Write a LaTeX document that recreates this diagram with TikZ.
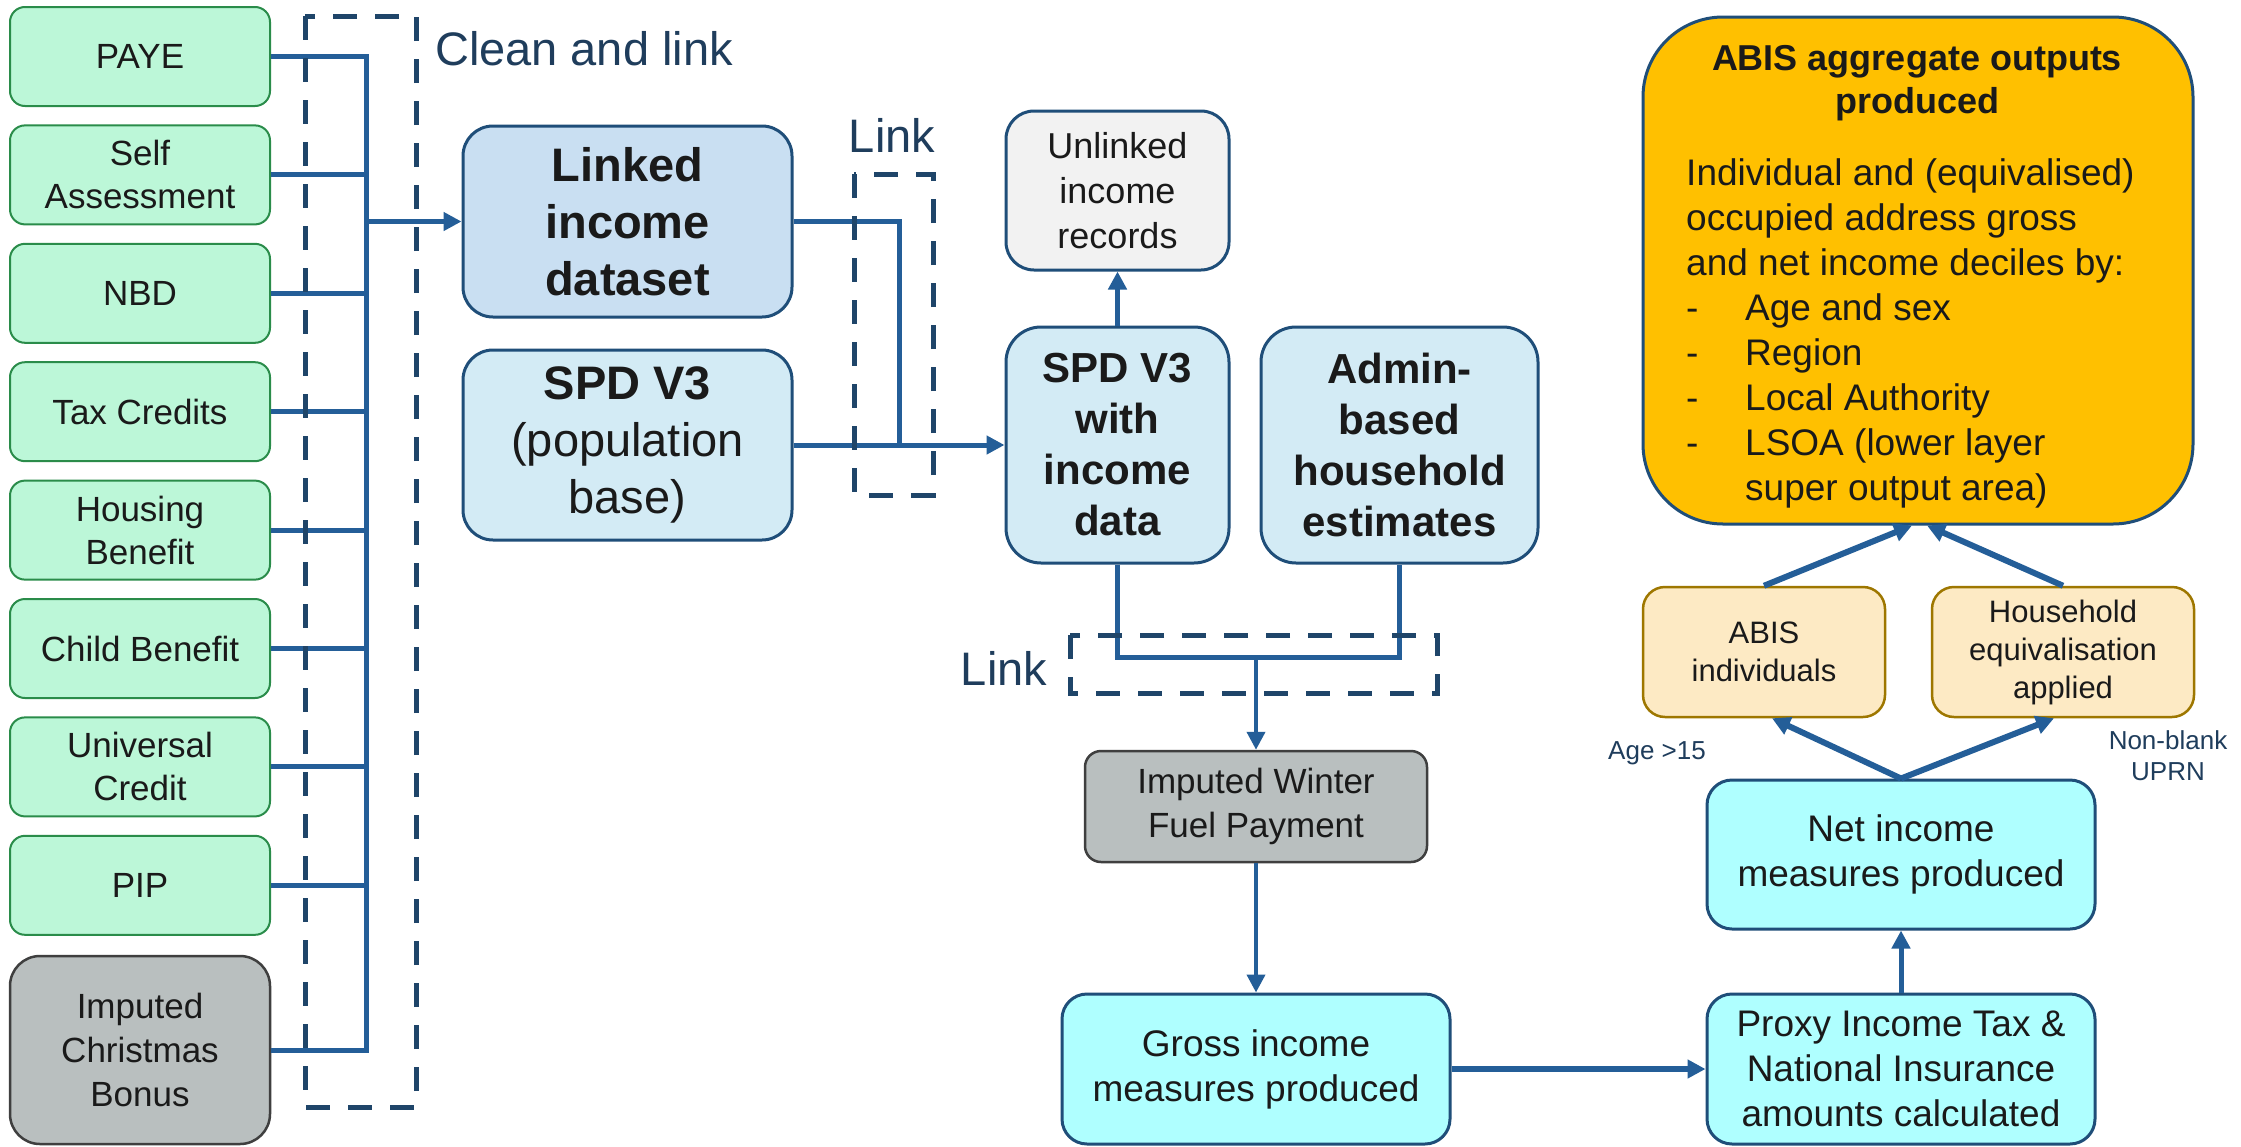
\documentclass[tikz,border=0pt]{standalone}
\usepackage{fontspec}
\setmainfont{Liberation Sans}
\usetikzlibrary{arrows.meta,calc}
\definecolor{grnF}{HTML}{BCF7D8}
\definecolor{grnB}{HTML}{2A8C4A}
\definecolor{gryF}{HTML}{B9BFBF}
\definecolor{gryB}{HTML}{3F3F3F}
\definecolor{lnkF}{HTML}{C9DFF2}
\definecolor{spdF}{HTML}{D3EBF5}
\definecolor{unlF}{HTML}{F2F2F2}
\definecolor{aquF}{HTML}{AFFFFF}
\definecolor{orgF}{HTML}{FDEAC4}
\definecolor{orgB}{HTML}{9E7700}
\definecolor{aggF}{HTML}{FFC000}
\definecolor{navB}{HTML}{1F4E79}
\definecolor{lnk}{HTML}{245E98}
\definecolor{dsh}{HTML}{1F4569}
\definecolor{lblc}{HTML}{1F3D5C}
\definecolor{txt}{HTML}{1A1A1A}
\tikzset{
  basebox/.style={draw, inner sep=0pt, align=center, text=txt},
  greenbox/.style={basebox, draw=grnB, fill=grnF, line width=2pt, rounded corners=15pt,
    minimum width=260pt, minimum height=99pt, font=\fontsize{35}{43}\selectfont},
  graybox/.style={basebox, draw=gryB, fill=gryF, line width=2.5pt,
    font=\fontsize{35}{44}\selectfont},
  bluebox/.style={basebox, draw=navB, line width=3pt},
  aquabox/.style={basebox, draw=navB, fill=aquF, line width=3pt, rounded corners=25pt,
    minimum width=388pt, font=\fontsize{37}{45}\selectfont},
  orgbox/.style={basebox, draw=orgB, fill=orgF, line width=2.5pt, rounded corners=22pt,
    minimum height=130pt, font=\fontsize{31}{38}\selectfont},
  conn/.style={draw=lnk, line width=5pt},
  arr/.style={-{Triangle[length=18pt,width=18pt]}},
  dbox/.style={draw=dsh, line width=5pt, dash pattern=on 24pt off 18pt},
  lbl/.style={text=lblc, inner sep=0pt, font=\fontsize{47}{56}\selectfont},
  smalllbl/.style={text=lblc, inner sep=0pt, align=center, font=\fontsize{26}{31}\selectfont},
}
\begin{document}
\begin{tikzpicture}[x=1pt,y=-1pt]
\useasboundingbox[fill=white] (0,0) rectangle (2241,1146);

% left sources
\node[greenbox] (paye) at (140,56.5) {PAYE};
\node[greenbox] (self) at (140,174.9) {Self\\Assessment};
\node[greenbox] (nbd) at (140,293.3) {NBD};
\node[greenbox] (tax) at (140,411.7) {Tax Credits};
\node[greenbox] (hb) at (140,530.1) {Housing\\Benefit};
\node[greenbox] (cb) at (140,648.5) {Child Benefit};
\node[greenbox] (uc) at (140,766.9) {Universal\\Credit};
\node[greenbox] (pip) at (140,885.3) {PIP};
\node[graybox, minimum width=260pt, minimum height=188pt, rounded corners=30pt] (xmas) at (140,1050) {Imputed\\Christmas\\Bonus};

% middle
\node[bluebox, fill=lnkF, rounded corners=30pt, minimum width=329pt, minimum height=191pt,
  font=\fontsize{47}{57}\selectfont\bfseries] (linked) at (627.5,221.5) {Linked\\income\\dataset};
\node[bluebox, fill=spdF, rounded corners=30pt, minimum width=329pt, minimum height=190pt,
  font=\fontsize{47}{57}\selectfont] (spdpop) at (627.5,445) {\textbf{SPD V3}\\(population\\base)};
\node[bluebox, fill=unlF, rounded corners=28pt, minimum width=223pt, minimum height=159pt,
  font=\fontsize{36}{45}\selectfont] (unlinked) at (1117.5,190.5) {Unlinked\\income\\records};
\node[bluebox, fill=spdF, rounded corners=35pt, minimum width=223pt, minimum height=236pt,
  font=\fontsize{42}{51}\selectfont\bfseries] (spdinc) at (1117.5,445) {SPD V3\\with\\income\\data};
\node[bluebox, fill=spdF, rounded corners=35pt, minimum width=277pt, minimum height=236pt,
  font=\fontsize{42}{51}\selectfont\bfseries] (admin) at (1399.5,445) {Admin-\\based\\household\\estimates};

\node[graybox, minimum width=342pt, minimum height=111pt, rounded corners=16pt] (winter) at (1256,806.5) {Imputed Winter\\Fuel Payment};
\node[aquabox, minimum height=150pt] (gross) at (1256,1069) {Gross income\\measures produced};
\node[aquabox, minimum height=150pt] (proxy) at (1901,1069) {Proxy Income Tax \&\\National Insurance\\amounts calculated};
\node[aquabox, minimum height=149pt] (net) at (1901,854.5) {Net income\\measures produced};

\node[orgbox, minimum width=242pt] (abisind) at (1764,652) {ABIS\\individuals};
\node[orgbox, minimum width=262pt] (hhe) at (2063,652) {Household\\equivalisation\\applied};

\node[basebox, draw=navB, fill=aggF, line width=3pt, rounded corners=80pt,
  minimum width=550pt, minimum height=507pt] (agg) at (1918,270.5) {};
\node[inner sep=0pt, align=center, text=txt, font=\fontsize{36}{43}\selectfont\bfseries]
  (aggtitle) at (1917,83) {ABIS aggregate outputs\\produced};
\node[inner sep=0pt, align=left, anchor=west, text=txt, font=\fontsize{37}{45}\selectfont]
  (aggbody) at (1686,333) {Individual and (equivalised)\\occupied address gross\\and net income deciles by:\\
  \makebox[59pt][l]{-}Age and sex\\\makebox[59pt][l]{-}Region\\\makebox[59pt][l]{-}Local Authority\\
  \makebox[59pt][l]{-}LSOA (lower layer\\\hspace*{59pt}super output area)};

% labels
\node[lbl] (cleanlbl) at (584,49) {Clean and link};
\node[lbl] (link1lbl) at (892,135) {Link};
\node[lbl] (link2lbl) at (1004,668) {Link};
\node[smalllbl] (agelbl) at (1657,753) {Age >15};
\node[smalllbl] (uprnlbl) at (2168,756) {Non-blank\\UPRN};

% junction helpers
\coordinate (bus) at (366,0);
\coordinate (j1) at (899,0);
\coordinate (j2) at (0,657);

% connectors: sources to linked dataset
\draw[conn] (paye.east) -| (xmas.east -| bus) -- (xmas.east);
\foreach \n in {self,nbd,tax,hb,cb,uc,pip} {\draw[conn] (\n.east) -- (\n.east -| bus);}
\draw[conn,arr] (linked.west -| bus) -- (linked.west);

% link into SPD with income
\draw[conn] (linked.east) -| (spdpop.east -| j1);
\draw[conn,arr] (spdpop.east) -- (spdinc.west);
\draw[conn,arr] (spdinc.north) -- (unlinked.south);

% second link
\draw[conn] (spdinc.south) |- (admin.south |- j2) -- (admin.south);
\draw[conn,line width=4pt,arr] (winter.north |- j2) -- (winter.north);
\draw[conn,line width=4pt,arr] (winter.south) -- (gross.north);
\draw[conn,line width=6pt,arr] (gross.east) -- (proxy.west);
\draw[conn,line width=5pt,arr] (proxy.north) -- (net.south);
\draw[conn,line width=6pt,arr] (net.north) -- ($(abisind.south)+(8,0)$);
\draw[conn,line width=6pt,arr] (net.north) -- ($(hhe.south)+(-9,0)$);
\draw[conn,line width=6pt,arr] (abisind.north) -- ($(agg.south)+(-6,0)$);
\draw[conn,line width=6pt,arr] (hhe.north) -- ($(agg.south)+(9,0)$);

% dashed grouping boxes
\draw[dbox] (305,16) rectangle (416,1107);
\draw[dbox] (854,174) rectangle (933,495);
\draw[dbox] (1070,635) rectangle (1437,693);
\end{tikzpicture}
\end{document}
